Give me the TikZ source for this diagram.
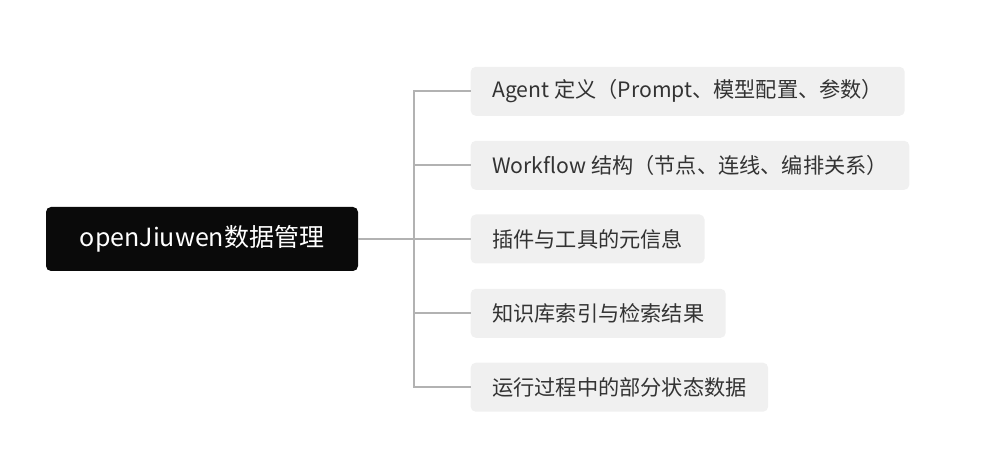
\documentclass[tikz,border=0pt]{standalone}
\usepackage{fontspec}
\setmainfont{Noto Sans CJK SC}
\begin{document}
\begin{tikzpicture}[x=1pt,y=-1pt,
  rootbox/.style={draw=none,fill=black!96,rounded corners=5pt,text=white,
    minimum width=312pt,minimum height=64pt,font=\fontsize{25}{29}\selectfont,inner sep=0pt},
  leafbox/.style={draw=none,fill=black!6,rounded corners=5pt,text=black!80,anchor=west,
    minimum height=49pt,inner xsep=21.5pt,inner ysep=0pt,font=\fontsize{21.2}{25}\selectfont},
  conn/.style={draw=black!30,line width=1.9pt}]
\useasboundingbox (0,0) rectangle (1005,470);
\node[rootbox] (root) at (202,239) {openJiuwen数据管理};
\node[leafbox] (c1) at (470.5,91.3) {Agent 定义（Prompt、模型配置、参数）};
\node[leafbox] (c2) at (470.5,165.3) {Workflow 结构（节点、连线、编排关系）};
\node[leafbox] (c3) at (470.5,239) {插件与工具的元信息};
\node[leafbox] (c4) at (470.5,313.3) {知识库索引与检索结果};
\node[leafbox] (c5) at (470.5,387.2) {运行过程中的部分状态数据};
\coordinate (j) at (414,239);
\draw[conn] (root.east) -- (c3.west);
\draw[conn] (j) |- (c1.west);
\draw[conn] (j) |- (c2.west);
\draw[conn] (j) |- (c4.west);
\draw[conn] (j) |- (c5.west);
\end{tikzpicture}
\end{document}
